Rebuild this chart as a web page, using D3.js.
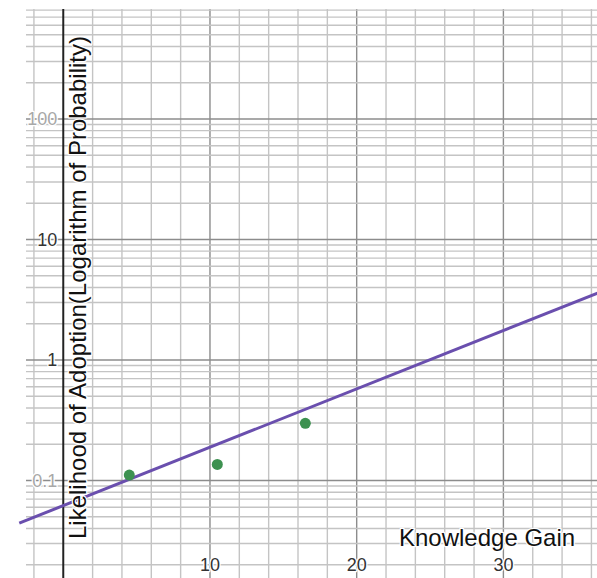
<!DOCTYPE html>
<html>
<head>
<meta charset="utf-8">
<script src="https://cdn.jsdelivr.net/npm/d3@7"></script>
<style>
  html, body { margin: 0; padding: 0; background: #fff; }
  svg { display: block; font-family: "Liberation Sans", Arial, sans-serif; }
</style>
</head>
<body>
<svg id="chart" width="597" height="578"></svg>
<script>
// Observed points: knowledge gain vs. likelihood of adoption
const knowledgeGain = [4.5, 10.5, 16.5];
const adoption = [0.111, 0.136, 0.298];

// Exponential trend line (straight on the log axis), given by its two ends
const trendX = [-3, 37];
const trendY = [0.0443, 3.83];

// Tick labels
const xTickValues = [10, 20, 30];
const yTickValues = [0.1, 1, 10, 100];
const yTickText = ["0.1", "1", "10", "100"];

const xTitle = "Knowledge Gain";
const yTitle = "Likelihood of Adoption(Logarithm of Probability)";

const plot = { left: 26, right: 597, top: 9, bottom: 578 };

const svg = d3.select("#chart");

const x = d3.scaleLinear().domain([-2.54, 36.38]).range([plot.left, plot.right]);
const y = d3.scaleLog().domain([0.01552, 818]).range([plot.bottom, plot.top]);

const [yLo, yHi] = y.domain();
const [xLo, xHi] = x.domain();

// ---- grid ----
const grid = svg.append("g").attr("class", "grid");

// vertical lines every 2 units, darker every 10
const vLines = d3.range(Math.ceil(xLo / 2) * 2, xHi, 2).filter(v => v !== 0);
grid.selectAll("line.v")
  .data(vLines)
  .join("line")
  .attr("class", "v")
  .attr("x1", d => x(d)).attr("x2", d => x(d))
  .attr("y1", plot.top).attr("y2", plot.bottom)
  .attr("stroke", d => d % 10 === 0 ? "#8c8c8c" : "#c4c4c4")
  .attr("stroke-width", 1.4);

// horizontal log lines: 1..9 times each power of ten
const hLines = [];
for (let e = -2; e <= 3; e++) {
  for (let m = 1; m <= 9; m++) {
    const v = m * Math.pow(10, e);
    if (v >= yLo && v <= yHi) hLines.push({ v, major: m === 1 });
  }
}
grid.selectAll("line.h")
  .data(hLines)
  .join("line")
  .attr("class", "h")
  .attr("x1", plot.left).attr("x2", plot.right)
  .attr("y1", d => y(d.v)).attr("y2", d => y(d.v))
  .attr("stroke", d => d.major ? "#8c8c8c" : "#c4c4c4")
  .attr("stroke-width", 1.4);

// ---- y axis line at x = 0 ----
svg.append("line")
  .attr("x1", x(0)).attr("x2", x(0))
  .attr("y1", plot.top).attr("y2", plot.bottom)
  .attr("stroke", "#222")
  .attr("stroke-width", 2);

// ---- tick labels ----
const haloed = sel => sel
  .attr("stroke", "#fff").attr("stroke-width", 2.5)
  .attr("paint-order", "stroke").attr("stroke-linejoin", "round");

svg.append("g").selectAll("text")
  .data(xTickValues)
  .join("text")
  .attr("x", d => x(d))
  .attr("y", 571)
  .attr("text-anchor", "middle")
  .attr("font-size", 18)
  .attr("fill", "#333")
  .text(d => d)
  .call(haloed);

svg.append("g").selectAll("text")
  .data(yTickValues)
  .join("text")
  .attr("x", x(0) - 6)
  .attr("y", d => y(d))
  .attr("dy", "0.35em")
  .attr("text-anchor", "end")
  .attr("font-size", 18)
  .attr("fill", d => (d === 100 || d === 0.1) ? "#a8a8a8" : "#333")
  .text((d, i) => yTickText[i])
  .call(haloed);

// ---- trend line ----
const trend = trendX.map((v, i) => [v, trendY[i]]);
svg.append("path")
  .datum(trend)
  .attr("d", d3.line().x(d => x(d[0])).y(d => y(d[1])))
  .attr("fill", "none")
  .attr("stroke", "#6a4fae")
  .attr("stroke-width", 3);

// ---- points ----
svg.append("g").selectAll("circle")
  .data(knowledgeGain.map((v, i) => [v, adoption[i]]))
  .join("circle")
  .attr("cx", d => x(d[0]))
  .attr("cy", d => y(d[1]))
  .attr("r", 5.5)
  .attr("fill", "#3d9150");

// ---- axis titles ----
svg.append("text")
  .attr("x", 399)
  .attr("y", 546)
  .attr("font-size", 24)
  .attr("fill", "#111")
  .text(xTitle)
  .call(haloed);

svg.append("text")
  .attr("transform", "translate(86,539) rotate(-90)")
  .attr("font-size", 24)
  .attr("fill", "#111")
  .text(yTitle)
  .call(haloed);
</script>
</body>
</html>
